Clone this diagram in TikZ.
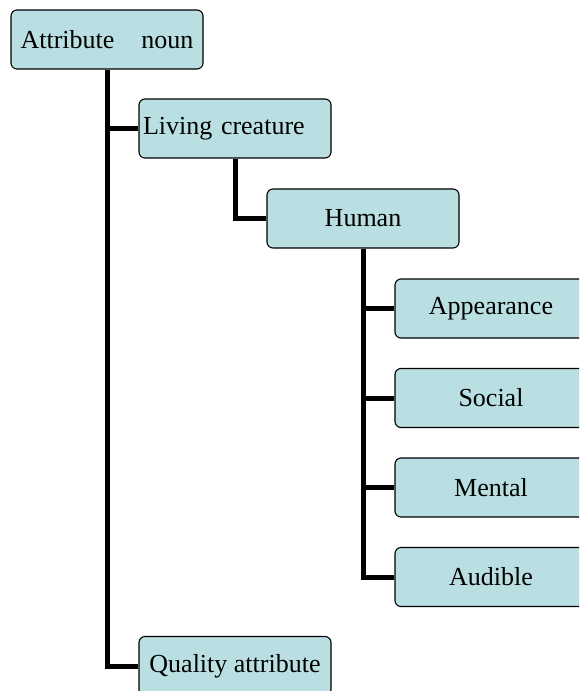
\documentclass[tikz,border=0pt]{standalone}
\usepackage{fontspec}
\setmainfont{Liberation Serif}
\usepackage{tikz}
\definecolor{boxfill}{RGB}{186,223,226}

\begin{document}
\begin{tikzpicture}[x=1pt, y=-1pt]
        \tikzset{every node/.style={draw, rounded corners=6pt, fill=boxfill, line width=1.1pt,
          minimum width=192pt, minimum height=59pt, font=\fontsize{26}{30}\selectfont}}
        \clip (0,0) rectangle (579,691);
        \useasboundingbox (0,0) rectangle (579,691);
        \node (attr) at (107, 39.5) {Attribute\hspace{27pt}noun};
        \node (living) at (235, 128.5) [text width=184pt, inner xsep=4pt, align=left] {Living creature};
        \node (human) at (363, 218.5) {Human};
        \node (appear) at (491, 308.5) {Appearance};
        \node (social) at (491, 398) {Social};
        \node (mental) at (491, 487.5) {Mental};
        \node (audible) at (491, 577) {Audible};
        \node (quality) at (235, 666) {Quality attribute};
        % tree lines
        \tikzset{mystyle/.style={line width=5pt}};
        \draw [mystyle] (attr.south) |- (living.west);
        \draw [mystyle] (attr.south) |- (quality.west);
        \draw [mystyle] (living.south) |- (human.west);
        \draw [mystyle] (human.south) |- (appear.west);
        \draw [mystyle] (human.south) |- (social.west);
        \draw [mystyle] (human.south) |- (mental.west);
        \draw [mystyle] (human.south) |- (audible.west);
      \end{tikzpicture}
\end{document}
